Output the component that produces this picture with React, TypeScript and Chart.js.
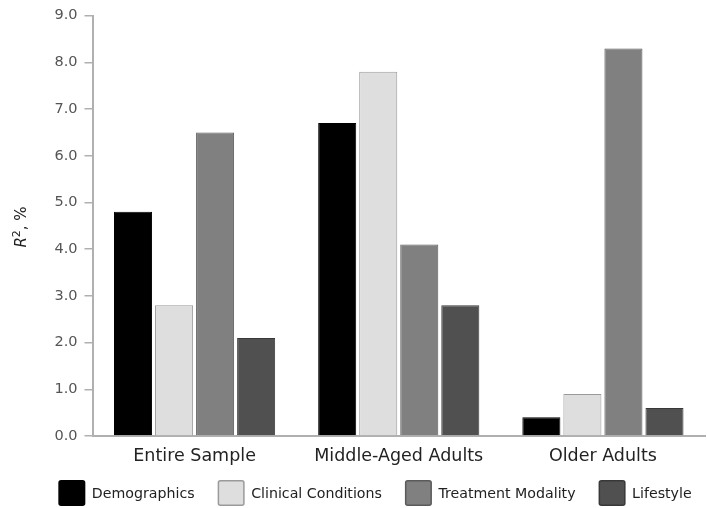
import React, { useEffect, useRef } from "react";
import { Chart, registerables } from "chart.js";

Chart.register(...registerables);

const categories = ["Entire Sample", "Middle-Aged Adults", "Older Adults"];
const seriesNames = ["Demographics", "Clinical Conditions", "Treatment Modality", "Lifestyle"];
const demographics = [4.8, 6.7, 0.4];
const clinicalConditions = [2.8, 7.8, 0.9];
const treatmentModality = [6.5, 4.1, 8.3];
const lifestyle = [2.1, 2.8, 0.6];
const fillColors = ["#000000", "#dedede", "#808080", "#505050"];
const borderColors = ["#000000", "#9a9a9a", "#5a5a5a", "#383838"];
const yTicks = [0, 1, 2, 3, 4, 5, 6, 7, 8, 9];

const FONT = "'DejaVu Sans', Verdana, sans-serif";

const legendPlugin = {
  id: "customLegend",
  afterDraw(chart: any) {
    const ctx = chart.ctx;
    ctx.save();
    ctx.font = `14.2px ${FONT}`;
    const box = 27;
    const boxH = 26;
    const gapText = 6.5;
    const gapItem = 23;
    const items = chart.data.datasets.map((d: any) => ({
      label: d.label,
      bg: d.backgroundColor,
      bd: d.borderColor,
      w: ctx.measureText(d.label).width,
    }));
    const total =
      items.reduce((s: number, it: any) => s + box + gapText + it.w, 0) +
      gapItem * (items.length - 1);
    let x = 375 - total / 2;
    const yTop = 480;
    items.forEach((it: any) => {
      ctx.fillStyle = it.bg;
      ctx.strokeStyle = it.bd;
      ctx.lineWidth = 1.5;
      ctx.beginPath();
      if (ctx.roundRect) ctx.roundRect(x + 0.75, yTop + 0.75, box - 1.5, boxH - 1.5, 2);
      else ctx.rect(x + 0.75, yTop + 0.75, box - 1.5, boxH - 1.5);
      ctx.fill();
      ctx.stroke();
      ctx.fillStyle = "#222";
      ctx.textBaseline = "middle";
      ctx.textAlign = "left";
      ctx.fillText(it.label, x + box + gapText, yTop + boxH / 2 + 1);
      x += box + gapText + it.w + gapItem;
    });
    ctx.restore();
  },
};

const yTitlePlugin = {
  id: "yTitle",
  afterDraw(chart: any) {
    const ctx = chart.ctx;
    ctx.save();
    ctx.translate(22, 227);
    ctx.rotate(-Math.PI / 2);
    ctx.fillStyle = "#222";
    ctx.textBaseline = "middle";
    ctx.textAlign = "left";
    const parts = [
      { t: "R", f: `italic 15px ${FONT}`, dy: 0 },
      { t: "2", f: `11px ${FONT}`, dy: -5 },
      { t: ", %", f: `15px ${FONT}`, dy: 0 },
    ];
    let total = 0;
    parts.forEach((p) => {
      ctx.font = p.f;
      total += ctx.measureText(p.t).width;
    });
    let x = -total / 2;
    parts.forEach((p) => {
      ctx.font = p.f;
      ctx.fillText(p.t, x, p.dy);
      x += ctx.measureText(p.t).width;
    });
    ctx.restore();
  },
};

export default function App() {
  const ref = useRef<HTMLCanvasElement>(null);
  useEffect(() => {
    if (!ref.current) return;
    const series = [demographics, clinicalConditions, treatmentModality, lifestyle];
    const chart = new Chart(ref.current, {
      type: "bar",
      data: {
        labels: categories,
        datasets: series.map((data, i) => ({
          label: seriesNames[i],
          data,
          backgroundColor: fillColors[i],
          borderColor: borderColors[i],
          borderWidth: 1,
          categoryPercentage: 0.804,
          barPercentage: 0.927,
        })),
      },
      options: {
        animation: false,
        responsive: false,
        maintainAspectRatio: false,
        layout: { padding: { top: 15, right: 2, bottom: 42, left: 0 } },
        plugins: {
          legend: { display: false },
          tooltip: { enabled: false },
          title: { display: false },
        },
        scales: {
          x: {
            grid: { display: false, drawTicks: false },
            border: { display: true, color: "#b0b0b0", width: 2 },
            ticks: { font: { family: FONT, size: 17.5 }, color: "#222", padding: 10 },
            afterFit: (s: any) => {
              s.height = 30;
            },
          },
          y: {
            min: 0,
            max: 9,
            afterBuildTicks: (s: any) => {
              s.ticks = yTicks.map((v) => ({ value: v }));
            },
            grid: {
              display: true,
              drawOnChartArea: false,
              drawTicks: true,
              tickLength: 8,
              color: "#b0b0b0",
              lineWidth: 1.5,
            },
            border: { display: true, color: "#b0b0b0", width: 2 },
            ticks: {
              font: { family: FONT, size: 14.5 },
              color: "#555",
              padding: 7,
              callback: (v: any) => Number(v).toFixed(1),
            },
            afterFit: (s: any) => {
              s.width = 92.5;
            },
          },
        },
      },
      plugins: [legendPlugin, yTitlePlugin],
    });
    return () => chart.destroy();
  }, []);
  return (
    <div style={{ position: "fixed", left: 0, top: 0, width: 707, height: 508, background: "#fff" }}>
      <canvas ref={ref} width={707} height={508} style={{ width: 707, height: 508 }} />
    </div>
  );
}
